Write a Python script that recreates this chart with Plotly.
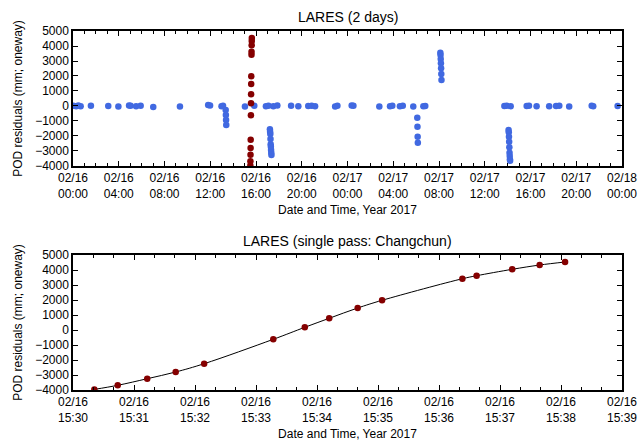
import plotly.graph_objects as go
from plotly.subplots import make_subplots

# ---------------- data ----------------
# single pass (Changchun), 2017-02-16
pass_times = ["15:30:21", "15:30:44", "15:31:13", "15:31:41", "15:32:09",
              "15:33:17", "15:33:48", "15:34:12", "15:34:40", "15:35:04",
              "15:36:23", "15:36:37", "15:37:12", "15:37:39", "15:38:04"]
pass_values = [-3960, -3687, -3247, -2800, -2247,
               -620, 180, 780, 1467, 1980,
               3420, 3620, 4047, 4333, 4533]

# other passes (2 days), near zero residuals
blue_times = [
    "2017-02-16 00:02", "2017-02-16 00:16", "2017-02-16 00:28", "2017-02-16 00:40",
    "2017-02-16 01:34", "2017-02-16 03:05", "2017-02-16 03:58", "2017-02-16 04:54",
    "2017-02-16 05:02", "2017-02-16 05:31", "2017-02-16 05:55", "2017-02-16 07:01",
    "2017-02-16 09:21", "2017-02-16 11:49", "2017-02-16 11:59", "2017-02-16 12:59",
    "2017-02-16 13:07", "2017-02-16 15:02", "2017-02-16 15:51", "2017-02-16 16:52",
    "2017-02-16 17:05", "2017-02-16 17:31", "2017-02-16 17:52", "2017-02-16 19:04",
    "2017-02-16 19:42", "2017-02-16 20:34", "2017-02-16 20:52", "2017-02-16 21:10",
    "2017-02-16 22:55", "2017-02-16 23:07", "2017-02-17 00:22", "2017-02-17 00:31",
    "2017-02-17 02:47", "2017-02-17 03:43", "2017-02-17 03:55", "2017-02-17 04:35",
    "2017-02-17 04:50", "2017-02-17 05:45", "2017-02-17 06:38", "2017-02-17 06:48",
    "2017-02-17 13:43", "2017-02-17 13:55", "2017-02-17 14:16", "2017-02-17 15:40",
    "2017-02-17 15:52", "2017-02-17 16:32", "2017-02-17 17:38", "2017-02-17 18:14",
    "2017-02-17 18:31", "2017-02-17 19:23", "2017-02-17 21:21", "2017-02-17 21:29",
    "2017-02-17 23:37",
]
blue_values = [
    20, -10, 30, -20, 10, 0, -30, 40, 10, -20, 20, -60,
    -40, 60, 40, -20, 10, -30, 20, -20, 10, -10, 30, 20,
    -10, 0, 10, -20, -30, 10, 30, 20,
    -30, -20, 10, -10, 20, -30, -20, 0,
    0, 10, -10, 0, 10, -10, -20, 0, 10, -30, 10, -10, 0,
]
# blue passes with larger residuals
cluster_times = (
    ["2017-02-16 13:21", "2017-02-16 13:22", "2017-02-16 13:23", "2017-02-16 13:24"]
    + ["2017-02-16 17:13", "2017-02-16 17:14", "2017-02-16 17:15", "2017-02-16 17:16",
       "2017-02-16 17:17", "2017-02-16 17:18", "2017-02-16 17:19", "2017-02-16 17:20",
       "2017-02-16 17:21"]
    + ["2017-02-17 06:06", "2017-02-17 06:07", "2017-02-17 06:08", "2017-02-17 06:09"]
    + ["2017-02-17 08:07", "2017-02-17 08:08", "2017-02-17 08:09", "2017-02-17 08:10",
       "2017-02-17 08:11", "2017-02-17 08:12", "2017-02-17 08:13"]
    + ["2017-02-17 14:05", "2017-02-17 14:06", "2017-02-17 14:07", "2017-02-17 14:08",
       "2017-02-17 14:09", "2017-02-17 14:10", "2017-02-17 14:11", "2017-02-17 14:12",
       "2017-02-17 14:13"]
)
cluster_values = (
    [-267, -600, -933, -1267]
    + [-1553, -1713, -1867, -2200, -2553, -2713, -2933, -3113, -3267]
    + [-780, -1380, -2047, -2447]
    + [3553, 3400, 3133, 2847, 2513, 2133, 1733]
    + [-1600, -1753, -2047, -2380, -2753, -3113, -3333, -3553, -3647]
)

top_tick_vals = ["2017-02-16 00:00", "2017-02-16 04:00", "2017-02-16 08:00",
                 "2017-02-16 12:00", "2017-02-16 16:00", "2017-02-16 20:00",
                 "2017-02-17 00:00", "2017-02-17 04:00", "2017-02-17 08:00",
                 "2017-02-17 12:00", "2017-02-17 16:00", "2017-02-17 20:00",
                 "2017-02-18 00:00"]
top_tick_text = ["02/16<br>00:00", "02/16<br>04:00", "02/16<br>08:00",
                 "02/16<br>12:00", "02/16<br>16:00", "02/16<br>20:00",
                 "02/17<br>00:00", "02/17<br>04:00", "02/17<br>08:00",
                 "02/17<br>12:00", "02/17<br>16:00", "02/17<br>20:00",
                 "02/18<br>00:00"]
bot_tick_vals = ["2017-02-16 15:%02d:00" % m for m in range(30, 40)]
bot_tick_text = ["02/16<br>15:%02d" % m for m in range(30, 40)]
y_tick_vals = [-4000, -3000, -2000, -1000, 0, 1000, 2000, 3000, 4000, 5000]

pass_full_times = ["2017-02-16 " + t for t in pass_times]

BLUE = "#4169E1"
RED = "#850000"
FONT = "Liberation Sans, Arial, Helvetica, sans-serif"

fig = make_subplots(rows=2, cols=1, vertical_spacing=0.0)

fig.add_trace(go.Scatter(x=blue_times + cluster_times, y=blue_values + cluster_values,
                         mode="markers", marker=dict(color=BLUE, size=6.5),
                         showlegend=False), row=1, col=1)
fig.add_trace(go.Scatter(x=pass_full_times, y=pass_values, mode="markers",
                         marker=dict(color=RED, size=6.5), showlegend=False), row=1, col=1)

fig.add_trace(go.Scatter(x=pass_full_times, y=pass_values, mode="lines",
                         line=dict(color="black", width=1, shape="spline", smoothing=1),
                         showlegend=False), row=2, col=1)
fig.add_trace(go.Scatter(x=pass_full_times, y=pass_values, mode="markers",
                         marker=dict(color=RED, size=6.5), showlegend=False), row=2, col=1)

axis_common = dict(showline=True, linecolor="black", linewidth=1.5, mirror="ticks",
                   ticks="inside", ticklen=5, tickcolor="black", showgrid=False,
                   zeroline=False, automargin=False,
                   tickfont=dict(size=12, color="black", family=FONT))

fig.update_xaxes(**axis_common)
fig.update_yaxes(**axis_common)

fig.update_xaxes(range=["2017-02-16 00:00", "2017-02-18 00:00"], tickmode="array",
                 tickvals=top_tick_vals, ticktext=top_tick_text,
                 minor=dict(dtick=3600000, ticks="inside", ticklen=3, tickcolor="black"),
                 title=dict(text="Date and Time, Year 2017", font=dict(size=12, family=FONT),
                            standoff=6),
                 domain=[0, 1], row=1, col=1)
fig.update_xaxes(range=["2017-02-16 15:30:00", "2017-02-16 15:39:00"], tickmode="array",
                 tickvals=bot_tick_vals, ticktext=bot_tick_text,
                 minor=dict(dtick=20000, tick0="2017-02-16 15:30:00", ticks="inside",
                            ticklen=3, tickcolor="black"),
                 title=dict(text="Date and Time, Year 2017", font=dict(size=12, family=FONT),
                            standoff=6),
                 row=2, col=1)

for r, dom in ((1, [0.624, 1.0]), (2, [0.0, 0.376])):
    fig.update_yaxes(range=[-4000, 5000], tickmode="array", tickvals=y_tick_vals,
                     title=dict(text="POD residuals (mm; oneway)",
                                font=dict(size=12, family=FONT), standoff=10),
                     domain=dom, row=r, col=1)

fig.add_annotation(text="LARES (2 days)", x=0.5, xref="paper", y=1.0, yref="paper",
                   yanchor="bottom", yshift=4, showarrow=False,
                   font=dict(size=14, family=FONT, color="black"))
fig.add_annotation(text="LARES (single pass: Changchun)", x=0.5, xref="paper", y=0.376,
                   yref="paper", yanchor="bottom", yshift=4, showarrow=False,
                   font=dict(size=14, family=FONT, color="black"))

fig.update_layout(width=644, height=442, margin=dict(l=73, r=22, t=31, b=52),
                  plot_bgcolor="white", paper_bgcolor="white",
                  font=dict(family=FONT, color="black", size=12))

fig.write_html("out.html")
